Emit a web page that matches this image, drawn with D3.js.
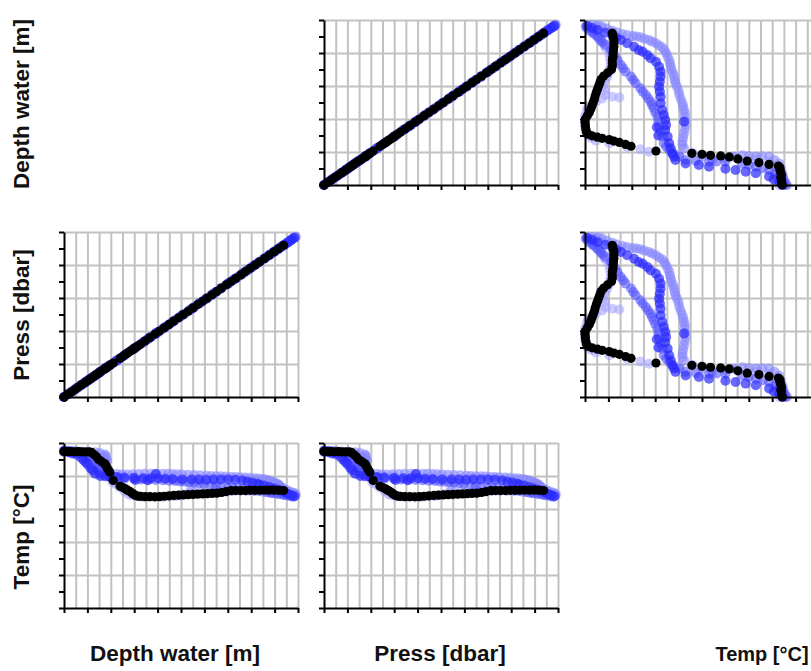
<!DOCTYPE html>
<html>
<head>
<meta charset="utf-8">
<script src="https://cdn.jsdelivr.net/npm/d3@7"></script>
<style>
  body { margin: 0; background: #fff; }
  .lbl { font-family: "Liberation Sans", Arial, sans-serif; font-weight: bold; font-size: 22.5px; fill: #111; }
</style>
</head>
<body>
<svg id="chart" width="811" height="671"></svg>
<script>
// variables of the matrix, in row / column order
const variables = ['Depth water [m]', 'Press [dbar]', 'Temp [°C]'];

// casts: [depth m, press dbar, temp °C]
const castBlack = [
  [0,0,25.3],[1.5,1.5,25.2],[3,3.0,25.2],[4.5,4.5,25.1],[6,6.1,25.2],[7.5,7.6,25.1],[9,9.1,25.0],
  [10.5,10.6,25.0],[11.5,11.6,24.8],[12.5,12.6,23.6],[13.6,13.7,22.3],[14.5,14.6,20.8],[15.8,16.0,19.6],
  [17,17.2,18.5],[17.6,17.8,17.4],[18,18.2,16.1],[18.6,18.8,15.0],[19.2,19.4,13.7],[20.6,20.8,9.1],
  [23.5,23.7,5.9],[24.6,24.8,5.2],[25.8,26.1,4.4],[26.6,26.9,3.7],[27.5,27.8,3.1],[28.3,28.6,2.2],
  [29,29.3,1.6],[29.8,30.1,0.9],[30.8,31.1,0.4],[32,32.3,0.2],[34,34.3,0.1],[36,36.4,0.05],[38,38.4,0.0],
  [40,40.4,0.05],[42,42.4,0.3],[44,44.4,0.55],[46,46.5,0.75],[48,48.5,0.9],[50,50.5,1.05],[52,52.5,1.2],
  [54,54.5,1.3],[56,56.6,1.45],[58,58.6,1.6],[60,60.6,1.75],[62,62.6,1.9],[64,64.6,2.05],[66,66.7,2.4],
  [68,68.7,2.9],[70,70.7,3.4],[72,72.7,3.5],[74,74.7,3.5],[76,76.8,3.5],[78,78.8,3.6],[80,80.8,3.6],
  [82,82.8,3.65],[84,84.8,3.7],[86,86.9,3.7],[88,88.9,3.7],[90,90.9,3.6],[92,92.9,3.5]
];

const castDark = [
  [0,0,25.3],[2,2.0,24.9],[3.4,3.4,24.2],[5.1,5.2,23.6],[7.1,7.2,21.9],[8.1,8.2,20.6],[9.1,9.2,19.3],
  [9.9,10.0,18.0],[11.1,11.2,15.9],[12.1,12.2,14.6],[13.1,13.2,12.9],[15.2,15.4,11.6],[17.2,17.4,11.4],
  [19.2,19.4,11.2],[22.2,22.4,11.0],[25.3,25.6,10.8],[29.3,29.6,10.6],[30,30.3,9.4],[33.3,33.6,10.3],
  [35,35.4,9.2],[36.4,36.8,10.4],[38.4,38.8,12.7],[39.4,39.8,10.3],[42.4,42.8,10.1],[45.5,46.0,9.9],
  [49.5,50.0,9.7],[53.5,54.0,9.7],[56.6,57.2,9.6],[59.6,60.2,9.5],[62.6,63.2,9.6],[65.7,66.4,9.7],
  [68.7,69.4,9.7],[71.7,72.4,9.5],[74.7,75.4,9.1],[76.8,77.6,8.4],[78.8,79.6,8.0],[80.8,81.6,7.4],
  [81.8,82.6,6.9],[83.8,84.6,6.3],[85.9,86.8,5.4],[87.9,88.8,4.6],[89.4,90.3,4.0],[90.9,91.8,3.5],
  [92.3,93.2,2.6],[93.9,94.8,1.6],[95.2,96.2,0.9],[96.5,97.5,0.3]
];

const castMid = [
  [0,0,25.7],[2,2.0,25.5],[4,4.0,25.3],[5.5,5.6,24.9],[7.1,7.2,24.4],[9.1,9.2,23.6],[10.1,10.2,22.8],
  [11.1,11.2,21.9],[12.1,12.2,21.0],[13.1,13.2,20.2],[14.1,14.2,18.0],[14.3,14.4,16.9],[14.1,14.2,15.9],
  [14.7,14.8,14.2],[15.2,15.4,12.9],[17.2,17.4,12.1],[19.2,19.4,11.2],[21.2,21.4,10.8],[23.2,23.4,10.4],
  [25.3,25.6,10.1],[29.3,29.6,9.9],[32.4,32.7,9.7],[35.4,35.8,9.5],[38.4,38.8,9.4],[41.4,41.8,9.3],
  [44,44.4,9.0],[46.5,47.0,8.8],[48.5,49.0,8.6],[50.5,51.0,8.4],[52.5,53.0,8.1],[54.5,55.0,7.8],
  [56.6,57.2,7.4],[58.6,59.2,7.1],[61.6,62.2,6.5],[63.6,64.2,6.2],[65.7,66.4,5.9],[68.7,69.4,5.2],
  [70.7,71.4,4.9],[72.7,73.4,4.6],[75.3,76.1,4.2],[77.8,78.6,3.9],[79.8,80.6,3.6],[81.8,82.6,3.3],
  [84.8,85.6,2.6],[86.4,87.3,2.3],[87.9,88.8,2.0],[89.4,90.3,1.7],[90.9,91.8,1.4],[92.2,93.1,1.0],
  [93.5,94.4,0.7],[95,96.0,0.3],[96,97.0,0.1]
];

const castLight = [
  [0,0,25.9],[1.5,1.5,25.7],[3,3.0,25.5],[5,5.1,25.4],[7.1,7.2,25.3],[10,10.1,25.1],[13.1,13.2,24.9],
  [15.2,15.4,24.3],[17.2,17.4,23.6],[17.4,17.6,22.7],[17.2,17.4,21.9],[17.6,17.8,21.0],[18,18.2,20.2],
  [17.2,17.4,19.1],[16.2,16.4,18.0],[15.6,15.8,16.3],[17.2,17.4,15.0],[19.2,19.4,13.8],[22.2,22.4,12.7],
  [24.2,24.4,12.5],[26.3,26.6,12.5],[28.8,29.1,12.6],[31.3,31.6,12.7],[33.8,34.1,12.8],[36.4,36.8,12.9],
  [38.9,39.3,12.9],[41.4,41.8,12.8],[43.5,43.9,12.8],[45.5,46.0,12.7],[47.5,48.0,12.6],[49.5,50.0,12.5],
  [52,52.5,12.3],[54.5,55.0,12.1],[57,57.6,12.0],[59.6,60.2,11.8],[61.6,62.2,11.6],[63.6,64.2,11.5],
  [65.7,66.4,11.4],[67.7,68.4,11.3],[69.7,70.4,11.1],[71.7,72.4,11.0],[73.7,74.4,10.9],[75.8,76.6,10.8],
  [77.8,78.6,10.6],[79.8,80.6,10.4],[81.6,82.4,10.2],[83.4,84.2,9.9],[84.6,85.4,9.5],[85.9,86.8,9.1],
  [86.9,87.8,8.6],[87.9,88.8,8.2],[88.7,89.6,7.6],[89.5,90.4,7.1],[90,90.9,6.6],[90.3,91.2,6.1],
  [90.9,91.8,5.4],[91.5,92.4,4.8],[92.5,93.4,4.1],[93.5,94.4,3.5],[94.8,95.7,2.8],[96,97.0,2.2],
  [96.6,97.6,1.5],[97,98.0,0.9]
];

const castPale = [
  [0,0,24.9],[2,2.0,24.8],[4,4.0,24.8],[6.1,6.2,24.7],[8.5,8.6,24.6],[11.1,11.2,24.4],[14.1,14.2,23.6],
  [15.6,15.8,21.9],[16.8,17.0,19.3],[17.6,17.8,15.9],[18.8,19.0,12.1],[20.2,20.4,8.2],[21.6,21.8,7.1],
  [23.2,23.4,5.4],[25.3,25.6,3.1],[26.9,27.2,1.4],[28.5,28.8,0.8],[30.3,30.6,0.3],[33,33.3,0.1],
  [35.4,35.8,0.0],[38.5,38.9,0.0],[41.4,41.8,0.0],[44,44.4,0.2],[46.5,47.0,0.3],[48.5,49.0,0.8],
  [50.5,51.0,1.4],[52.5,53.0,2.2],[53.5,54.0,3.5],[53.1,53.6,4.4],[54.5,55.0,2.6],[57.6,58.2,2.6],
  [60,60.6,2.3],[62.6,63.2,2.4],[65.2,65.9,2.8],[67.7,68.4,3.0],[70.7,71.4,3.2],[73.7,74.4,3.3],
  [76.8,77.6,3.2],[79.8,80.6,3.1],[83.4,84.2,2.6],[86.9,87.8,2.0],[89.5,90.4,1.6],[92,92.9,1.1],
  [94,94.9,0.9],[95.5,96.5,1.3],[97,98.0,1.8]
];

// axis ranges, per variable, when used on x and on y
const xDomains = [[0, 98], [0, 99], [0, 30]];
const yDomains = [[0, 100], [0, 101], [-62, 30]];

// drawing order: pale first, black on top
const casts = [
  { data: castPale,  color: '#a0a0ff', opacity: 0.55, r: 5 },
  { data: castLight, color: '#8585ff', opacity: 0.6,  r: 5 },
  { data: castMid,   color: '#5555ff', opacity: 0.6,  r: 5 },
  { data: castDark,  color: '#2a2aff', opacity: 0.7,  r: 5 },
  { data: castBlack, color: '#000000', opacity: 1,    r: 4.6 }
];

const panelW = 234, panelH = 165;
const colX = [64, 324, 585];
const rowY = [20, 232, 443];

const svg = d3.select('#chart');

// frame scales for the grid and the unlabeled ticks
const frameX = d3.scaleLinear().domain([0, 20]).range([0, panelW]);
const frameY = d3.scaleLinear().domain([0, 10]).range([panelH, 0]);

for (let row = 0; row < 3; row++) {
  for (let col = 0; col < 3; col++) {
    if (row === col) continue;

    const g = svg.append('g').attr('transform', `translate(${colX[col]},${rowY[row]})`);

    // grid
    g.append('g')
      .call(d3.axisBottom(frameX).tickValues(d3.range(1, 21)).tickSize(panelH).tickFormat(''))
      .call(s => s.select('.domain').remove())
      .call(s => s.selectAll('line').attr('stroke', '#c2c2c2').attr('stroke-width', 2));
    g.append('g')
      .call(d3.axisRight(frameY).tickValues([2, 4, 6, 8, 10]).tickSize(panelW).tickFormat(''))
      .call(s => s.select('.domain').remove())
      .call(s => s.selectAll('line').attr('stroke', '#c2c2c2').attr('stroke-width', 2));

    const x = d3.scaleLinear().domain(xDomains[col]).range([0, panelW]);
    const y = d3.scaleLinear().domain(yDomains[row]).range([panelH, 0]);

    casts.forEach(c => {
      g.append('g')
        .selectAll('circle')
        .data(c.data)
        .join('circle')
        .attr('cx', d => x(d[col]))
        .attr('cy', d => y(d[row]))
        .attr('r', c.r)
        .attr('fill', c.color)
        .attr('fill-opacity', c.opacity);
    });

    // axes
    g.append('g')
      .call(d3.axisLeft(frameY).ticks(10).tickSize(5).tickSizeOuter(0).tickFormat(''))
      .call(s => s.selectAll('line, path').attr('stroke', '#000').attr('stroke-width', 2));
    g.append('g')
      .attr('transform', `translate(0,${panelH})`)
      .call(d3.axisBottom(frameX).tickValues(d3.range(0, 21, 2)).tickSize(5).tickSizeOuter(0).tickFormat(''))
      .call(s => s.selectAll('line, path').attr('stroke', '#000').attr('stroke-width', 2));
  }
}

// axis titles; the last bottom one is smaller so it fits at the right edge
const bottomCenters = [175, 440, 762];
const leftCenters = [104, 315, 537];
variables.forEach((v, i) => {
  svg.append('text')
    .attr('class', 'lbl')
    .attr('x', bottomCenters[i])
    .attr('y', 661)
    .attr('text-anchor', 'middle')
    .style('font-size', i === 2 ? '20px' : null)
    .text(v);
  svg.append('text')
    .attr('class', 'lbl')
    .attr('transform', `translate(29,${leftCenters[i]}) rotate(-90)`)
    .attr('text-anchor', 'middle')
    .text(v);
});
</script>
</body>
</html>
